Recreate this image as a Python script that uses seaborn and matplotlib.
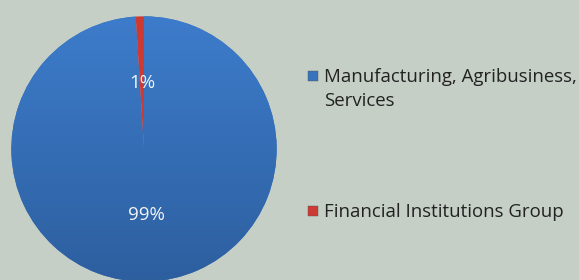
import numpy as np
import matplotlib.pyplot as plt
import seaborn as sns
from matplotlib.colors import LinearSegmentedColormap
from matplotlib.patches import Rectangle

sectors = ["Manufacturing, Agribusiness,\nServices", "Financial Institutions Group"]
shares = [99, 1]
labels = ["99%", "1%"]
colors = ["#3873bd", "#cc3a33"]
blue_top, blue_bottom = "#3d7ccb", "#2d5f9f"
bg = "#c5cfc5"

sns.set_theme(style="white")
plt.rcParams['font.family'] = ['Open Sans', 'DejaVu Sans']

fig = plt.figure(figsize=(5.79, 2.8), dpi=100, facecolor=bg)
ax = fig.add_axes([10 / 579, -3 / 280, 268 / 579, 268 / 280])
ax.set_facecolor(bg)

wedges, texts, autotexts = ax.pie(shares, colors=colors, startangle=90, counterclock=False,
                                  autopct="%1.0f%%", pctdistance=0.5, radius=1,
                                  wedgeprops={"linewidth": 0})

# vertical gradient on the big slice
grad = np.linspace(0, 1, 256).reshape(-1, 1)
cmap = LinearSegmentedColormap.from_list("blue", [blue_top, blue_bottom])
im = ax.imshow(grad, cmap=cmap, extent=[-1, 1, -1, 1], origin="upper", aspect="auto", zorder=1)
im.set_clip_path(wedges[0])
wedges[1].set_zorder(2)

for t, lab in zip(autotexts, labels):
    t.set_text(lab)
    t.set_color("#f2f4f6")
    t.set_fontsize(13.5)
    t.set_zorder(3)
ax.set_xlim(-1.01, 1.01)
ax.set_ylim(-1.01, 1.01)
ax.set_aspect("equal")
ax.axis("off")

# legend, handle aligned with the first line of each label
legend_y = [76, 211]
for name, c, y in zip(sectors, colors, legend_y):
    fig.patches.append(Rectangle((308 / 579, 1 - (y + 5) / 280), 10 / 579, 10 / 280,
                                 transform=fig.transFigure, facecolor=c,
                                 edgecolor="#555555", linewidth=0.3))
    fig.text(324 / 579, 1 - (y - 8) / 280, name, fontsize=13.4, color="#222222",
             va="top", ha="left", linespacing=1.45)

fig.savefig("out.png", dpi=100, facecolor=bg)
